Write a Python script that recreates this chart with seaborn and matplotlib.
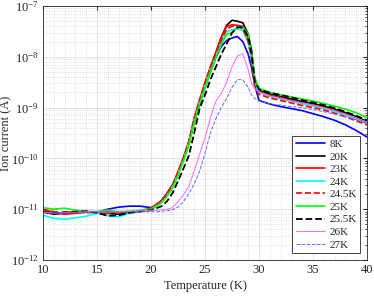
import numpy as np
import pandas as pd
import seaborn as sns
import matplotlib.pyplot as plt
from matplotlib.ticker import LogLocator, MultipleLocator, NullFormatter

output_file = "out.png"

# Temperature grid (K)
temperature = [10, 11, 12, 13, 14, 15, 16, 17, 18, 19, 20, 20.5, 21, 21.5, 22, 22.5,
               23, 23.5, 24, 24.5, 25, 25.5, 26, 26.5, 27, 27.5, 28, 28.5, 29, 29.3,
               29.6, 30, 31, 32, 33, 34, 35, 36, 37, 38, 39, 40]

# log10 of ion current (A)
log_8K = [-11.05, -11.08, -11.07, -11.06, -11.05, -11.06, -11.0, -10.96, -10.94, -10.94, -10.97,
          -10.92, -10.82, -10.68, -10.52, -10.28, -10.0, -9.7, -9.28, -8.92, -8.6, -8.3,
          -8.02, -7.8, -7.68, -7.63, -7.6, -7.7, -7.95, -8.2, -8.55, -8.86, -8.93, -8.98,
          -9.02, -9.06, -9.12, -9.18, -9.25, -9.34, -9.45, -9.58]
log_20K = [-11.05, -11.1, -11.08, -11.07, -11.06, -11.05, -11.08, -11.1, -11.07, -11.04, -11.0,
           -10.93, -10.86, -10.72, -10.56, -10.32, -10.03, -9.72, -9.27, -8.9, -8.55, -8.22,
           -7.92, -7.62, -7.38, -7.28, -7.3, -7.33, -7.55, -7.85, -8.45, -8.66, -8.73, -8.78,
           -8.83, -8.88, -8.92, -8.97, -9.03, -9.1, -9.18, -9.27]
log_23K = [-11.02, -11.05, -11.1, -11.08, -11.05, -11.06, -11.05, -11.07, -11.06, -11.03, -10.98,
           -10.9, -10.83, -10.68, -10.52, -10.26, -9.98, -9.66, -9.2, -8.84, -8.5, -8.2,
           -7.92, -7.62, -7.4, -7.37, -7.38, -7.4, -7.65, -7.95, -8.5, -8.68, -8.76, -8.81,
           -8.86, -8.91, -8.95, -9.0, -9.06, -9.13, -9.21, -9.3]
log_24K = [-11.12, -11.18, -11.2, -11.17, -11.14, -11.08, -11.13, -11.15, -11.08, -11.05, -11.02,
           -10.94, -10.86, -10.72, -10.55, -10.3, -10.02, -9.7, -9.25, -8.88, -8.55, -8.25,
           -7.98, -7.72, -7.5, -7.47, -7.45, -7.48, -7.72, -8.0, -8.52, -8.7, -8.78, -8.83,
           -8.88, -8.93, -8.97, -9.02, -9.08, -9.15, -9.23, -9.32]
log_24p5K = [-11.0, -11.05, -11.07, -11.05, -11.07, -11.06, -11.08, -11.05, -11.06, -11.05, -11.0,
             -10.92, -10.85, -10.7, -10.54, -10.28, -10.0, -9.68, -9.22, -8.86, -8.52, -8.22,
             -7.95, -7.68, -7.45, -7.4, -7.4, -7.44, -7.7, -8.02, -8.58, -8.74, -8.81, -8.86,
             -8.91, -8.96, -9.0, -9.05, -9.11, -9.18, -9.26, -9.34]
log_25K = [-10.97, -11.0, -10.98, -11.02, -11.04, -11.05, -11.02, -11.05, -11.04, -11.02, -11.0,
           -10.93, -10.87, -10.74, -10.58, -10.33, -10.05, -9.74, -9.3, -8.93, -8.6, -8.3,
           -8.02, -7.76, -7.56, -7.52, -7.42, -7.41, -7.55, -7.9, -8.4, -8.62, -8.7, -8.75,
           -8.79, -8.83, -8.87, -8.92, -8.97, -9.03, -9.1, -9.2]
log_25p5K = [-11.05, -11.08, -11.06, -11.05, -11.04, -11.07, -11.13, -11.12, -11.07, -11.04, -11.02,
             -10.98, -10.94, -10.84, -10.68, -10.45, -10.2, -9.95, -9.5, -9.02, -8.75, -8.45,
             -8.2, -7.95, -7.75, -7.53, -7.42, -7.42, -7.6, -7.92, -8.48, -8.64, -8.71, -8.75,
             -8.8, -8.85, -8.9, -8.95, -9.01, -9.08, -9.16, -9.25]
log_26K = [-11.05, -11.08, -11.07, -11.06, -11.05, -11.05, -11.06, -11.05, -11.04, -11.03, -11.02,
           -11.02, -11.01, -11.0, -10.97, -10.85, -10.72, -10.55, -10.25, -9.92, -9.6, -9.2,
           -8.88, -8.72, -8.5, -8.2, -7.98, -7.94, -8.25, -8.52, -8.62, -8.7, -8.77, -8.82,
           -8.87, -8.91, -8.95, -9.0, -9.06, -9.13, -9.2, -9.28]
log_27K = [-11.07, -11.08, -11.07, -11.06, -11.06, -11.05, -11.07, -11.06, -11.05, -11.05, -11.05,
           -11.05, -11.04, -11.03, -11.01, -10.96, -10.85, -10.7, -10.5, -10.25, -9.9, -9.5,
           -9.22, -9.0, -8.82, -8.6, -8.45, -8.45, -8.6, -8.75, -8.82, -8.87, -8.93, -8.95,
           -8.98, -9.0, -9.04, -9.08, -9.13, -9.18, -9.24, -9.3]

labels = ["8K", "20K", "23K", "24K", "24.5K", "25K", "25.5K", "26K", "27K"]
series = [log_8K, log_20K, log_23K, log_24K, log_24p5K, log_25K, log_25p5K, log_26K, log_27K]
colors = ["#0000ff", "#000000", "#ff0000", "#00ffff", "#ff0000", "#00ff00", "#000000", "#ff66ff", "#6666ff"]
styles = ["-", "-", "-", "-", "--", "-", "--", "-", "--"]
widths = [1.2, 1.2, 1.2, 1.2, 1.2, 1.2, 1.3, 0.7, 0.7]

sns.set_style("white")
plt.rcParams["font.family"] = ["Liberation Serif", "DejaVu Serif"]
plt.rcParams["mathtext.fontset"] = "stix"

fig = plt.figure(figsize=(3.74, 2.97), dpi=100)
ax = fig.add_axes([43 / 374, 37 / 297, 324 / 374, 254 / 297])

for lab, vals, c, ls, lw in zip(labels, series, colors, styles, widths):
    df = pd.DataFrame({"T": temperature, "I": np.power(10.0, vals)})
    sns.lineplot(data=df, x="T", y="I", ax=ax, color=c, linestyle=ls, linewidth=lw,
                 label=lab)

ax.set_yscale("log")
ax.set_xlim(10, 40)
ax.set_ylim(1e-12, 1e-7)
ax.xaxis.set_major_locator(MultipleLocator(5))
ax.xaxis.set_minor_locator(MultipleLocator(1))
ax.yaxis.set_major_locator(LogLocator(base=10, numticks=10))
ax.yaxis.set_minor_locator(LogLocator(base=10, subs=np.arange(2, 10), numticks=10))
ax.yaxis.set_minor_formatter(NullFormatter())

ax.grid(True, which="major", color="#dddddd", linewidth=0.6)
ax.grid(True, which="minor", color="#cccccc", linewidth=0.5, linestyle=":")
ax.set_axisbelow(True)
ax.tick_params(which="both", direction="in", top=True, right=True, labelsize=9,
               colors="#262626", pad=3)
ax.tick_params(which="major", length=3)
ax.tick_params(which="minor", length=1.5)
ax.tick_params(axis="x", which="minor", length=0)
for sp in ax.spines.values():
    sp.set_color("#262626")
    sp.set_linewidth(0.6)

ax.set_xlabel("Temperature (K)", fontsize=9)
ax.set_ylabel("Ion current (A)", fontsize=9)
ax.xaxis.set_label_coords(0.5, -0.08)
ax.yaxis.set_label_coords(-0.095, 0.5)

leg = ax.legend(loc="lower right", bbox_to_anchor=(0.978, 0.028), fontsize=8,
                frameon=True, fancybox=False, edgecolor="#262626", framealpha=1,
                handlelength=2.6, handletextpad=0.4, labelspacing=0.25,
                borderpad=0.3, borderaxespad=0)
leg.get_frame().set_linewidth(0.6)

plt.savefig(output_file, dpi=100)
plt.close()
